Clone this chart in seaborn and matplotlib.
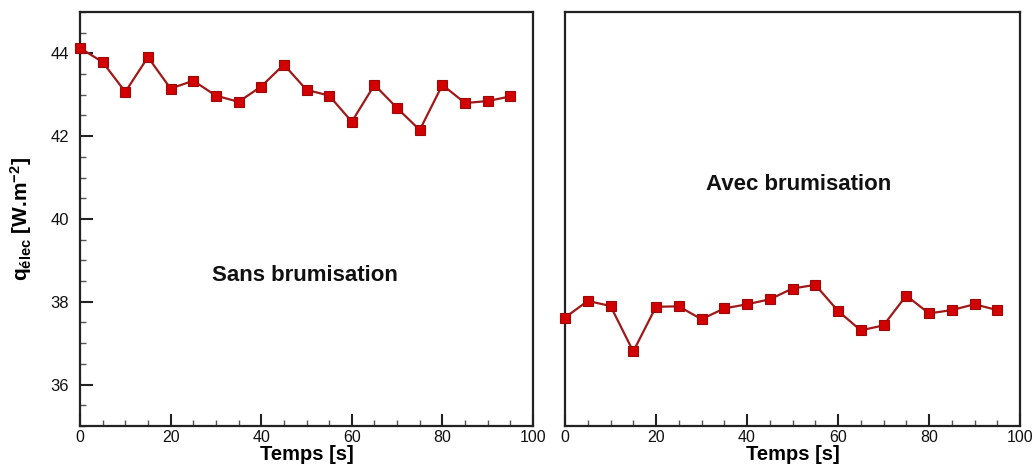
import numpy as np
import pandas as pd
import matplotlib
matplotlib.use("Agg")
import matplotlib.pyplot as plt
from matplotlib.ticker import MultipleLocator
import seaborn as sns

# ---- data ----
temps = [0, 5, 10, 15, 20, 25, 30, 35, 40, 45, 50, 55, 60, 65, 70, 75, 80, 85, 90, 95]
sans_brumisation = [44.13, 43.79, 43.07, 43.91, 43.15, 43.34, 42.98, 42.83, 43.20, 43.73,
                    43.12, 42.98, 42.35, 43.24, 42.68, 42.15, 43.24, 42.80, 42.85, 42.96]
avec_brumisation = [37.62, 38.02, 37.90, 36.80, 37.88, 37.89, 37.58, 37.84, 37.94, 38.06,
                    38.32, 38.41, 37.78, 37.31, 37.43, 38.15, 37.72, 37.80, 37.94, 37.80]
x_ticks = [0, 20, 40, 60, 80, 100]
y_ticks = [36, 38, 40, 42, 44]
xlabel = "Temps [s]"
ylabel = r"q$_{\mathrm{élec}}$ [W.m$^{\mathrm{-2}}$]"
label_left = "Sans brumisation"
label_right = "Avec brumisation"

sns.set_style("ticks")
plt.rcParams["font.family"] = ["Liberation Sans", "DejaVu Sans"]
plt.rcParams["mathtext.fontset"] = "custom"
plt.rcParams["mathtext.rm"] = "Liberation Sans:bold"
plt.rcParams["mathtext.it"] = "Liberation Sans:bold"
plt.rcParams["mathtext.bf"] = "Liberation Sans:bold"
plt.rcParams["text.color"] = "black"
plt.rcParams["axes.labelcolor"] = "black"
plt.rcParams["xtick.color"] = "black"
plt.rcParams["ytick.color"] = "black"

fig = plt.figure(figsize=(10.33, 4.66), dpi=100)
ax1 = fig.add_axes([80/1033, 1-426/466, 453/1033, 414/466])
ax2 = fig.add_axes([565/1033, 1-426/466, 455/1033, 414/466])

line_col = "#a01818"
mark_col = "#d20000"
mark_edge = "#9a0a0a"

df1 = pd.DataFrame({"t": temps, "q": sans_brumisation})
df2 = pd.DataFrame({"t": temps, "q": avec_brumisation})

for ax, df in [(ax1, df1), (ax2, df2)]:
    sns.lineplot(data=df, x="t", y="q", ax=ax, color=line_col, linewidth=1.6,
                 marker="s", markersize=7.5, markerfacecolor=mark_col,
                 markeredgecolor=mark_edge, markeredgewidth=0.8, clip_on=False, zorder=3)
    ax.set_xlim(0, 100)
    ax.set_ylim(35, 45)
    ax.set_xticks(x_ticks)
    ax.xaxis.set_minor_locator(MultipleLocator(5))
    ax.tick_params(axis="x", which="major", direction="in", length=9, width=1.5,
                   labelsize=11.5, pad=3, top=False, color="#222222", labelcolor="#111111")
    ax.tick_params(axis="x", which="minor", direction="in", length=4, width=1.0,
                   top=False, color="#555555")
    for s in ax.spines.values():
        s.set_visible(True)
        s.set_linewidth(1.6)
        s.set_color("#222222")
    ax.set_xlabel(xlabel, fontsize=14.5, fontweight="bold", labelpad=0, color="black")

ax1.set_yticks(y_ticks)
ax1.yaxis.set_minor_locator(MultipleLocator(0.5))
ax1.tick_params(axis="y", which="major", direction="in", length=9, width=1.5,
                labelsize=12, pad=8, right=False, color="#222222", labelcolor="#111111")
ax1.tick_params(axis="y", which="minor", direction="in", length=4, width=1.0,
                right=False, color="#555555")
ax1.set_ylabel(ylabel, fontsize=15, fontweight="bold", labelpad=12, color="black")

ax2.set_yticks([])
ax2.set_ylabel("")
ax2.tick_params(axis="y", which="both", left=False, right=False, labelleft=False)

ax1.text(49.7, 38.63, label_left, fontsize=16, fontweight="bold", ha="center", va="center",
         color="#111111")
ax2.text(51.4, 40.83, label_right, fontsize=16, fontweight="bold", ha="center", va="center",
         color="#111111")

fig.savefig("out.png", dpi=100)
